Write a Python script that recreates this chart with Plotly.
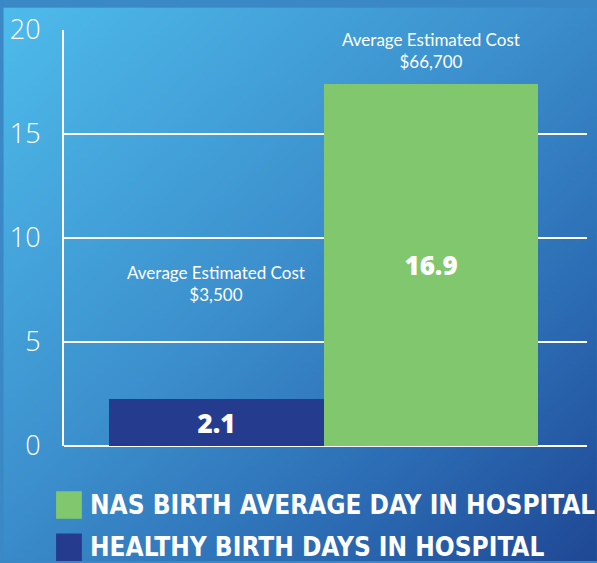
import base64
import plotly.graph_objects as go

# ---- data ----
categories = ["Healthy birth", "NAS birth"]
bar_heights = [2.27, 17.4]          # bar heights as drawn on the y scale
bar_labels = ["2.1", "16.9"]        # printed values
cost_labels = ["Average Estimated Cost<br>$3,500", "Average Estimated Cost<br>$66,700"]
cost_label_y = [7.8, 19.0]
legend_names = ["NAS BIRTH AVERAGE DAY IN HOSPITAL", "HEALTHY BIRTH DAYS IN HOSPITAL"]
bar_colors = ["#253C8E", "#80C76D"]
legend_colors = ["#80C76D", "#253C8E"]
y_ticks = [0, 5, 10, 15, 20]

W, H = 597, 563
ML, MR, MT, MB = 61, 10, 23, 117

svg = f'''<svg xmlns="http://www.w3.org/2000/svg" width="{W}" height="{H}" viewBox="0 0 {W} {H}" preserveAspectRatio="none">
<defs><linearGradient id="g" x1="0" y1="0" x2="1" y2="1">
<stop offset="0" stop-color="#4EBBEB"/>
<stop offset="0.45" stop-color="#3C90CD"/>
<stop offset="0.75" stop-color="#2B6BB3"/>
<stop offset="1" stop-color="#1F4794"/>
</linearGradient></defs>
<rect width="{W}" height="{H}" fill="url(#g)"/></svg>'''
bg_uri = "data:image/svg+xml;base64," + base64.b64encode(svg.encode()).decode()

pw = W - ML - MR
ph = H - MT - MB

fig = go.Figure()
xs = list(range(len(categories)))
fig.add_trace(go.Bar(
    x=xs, y=bar_heights, width=1.0,
    marker=dict(color=bar_colors, line=dict(width=0)),
    text=bar_labels, textposition="inside", insidetextanchor="middle",
    textfont=dict(family="Open Sans", size=26, color="white", weight=800),
    hoverinfo="skip", showlegend=False, cliponaxis=False,
))
for i, (xv, t) in enumerate(zip(xs, cost_labels)):
    fig.add_annotation(x=xv, y=cost_label_y[i], xref="x", yref="y", text=t,
                       showarrow=False, align="center",
                       font=dict(family="Lato", size=17, color="white"))

# custom legend
leg_y = [506, 549]
for i, (name, col) in enumerate(zip(legend_names, legend_colors)):
    cy = leg_y[i]
    fig.add_shape(type="rect", xref="paper", yref="paper",
                  x0=(53 - ML) / pw, x1=(79 - ML) / pw,
                  y0=1 - (cy - 14 - MT) / ph, y1=1 - (cy + 14 - MT) / ph,
                  fillcolor=col, line=dict(width=0))
    fig.add_annotation(xref="paper", yref="paper", x=(85 - ML) / pw, y=1 - (cy - MT) / ph,
                       xanchor="left", yanchor="middle", text=name, showarrow=False,
                       font=dict(family="DejaVu Sans Condensed", size=26, color="white",
                                 weight="bold"))

fig.update_layout(
    width=W, height=H,
    margin=dict(l=ML, r=MR, t=MT, b=MB, pad=0),
    paper_bgcolor="#3A88C6", plot_bgcolor="rgba(0,0,0,0)",
    bargap=0, showlegend=False,
    images=[dict(source=bg_uri, xref="paper", yref="paper",
                 x=-ML / pw, y=1 + MT / ph, sizex=W / pw, sizey=H / ph,
                 xanchor="left", yanchor="top", sizing="stretch", layer="below")],
    xaxis=dict(range=[-(430 - 216 - 62) / 216 - 1 / 216, 1 + (W - MR - 430) / 216],
               showticklabels=False, showgrid=False, zeroline=False, ticks="",
               fixedrange=True),
    yaxis=dict(range=[0, 20], tickvals=y_ticks, showgrid=True, gridcolor="white", gridwidth=2,
               zeroline=True, zerolinecolor="white", zerolinewidth=2,
               showline=True, linecolor="white", linewidth=2,
               ticks="", ticklabelstandoff=16,
               tickfont=dict(family="Open Sans", size=27, color="white", weight=300)),
)
fig.write_html("out.html", config={"displayModeBar": False},
               post_script="document.body.style.margin='0';document.body.style.overflow='hidden';")
